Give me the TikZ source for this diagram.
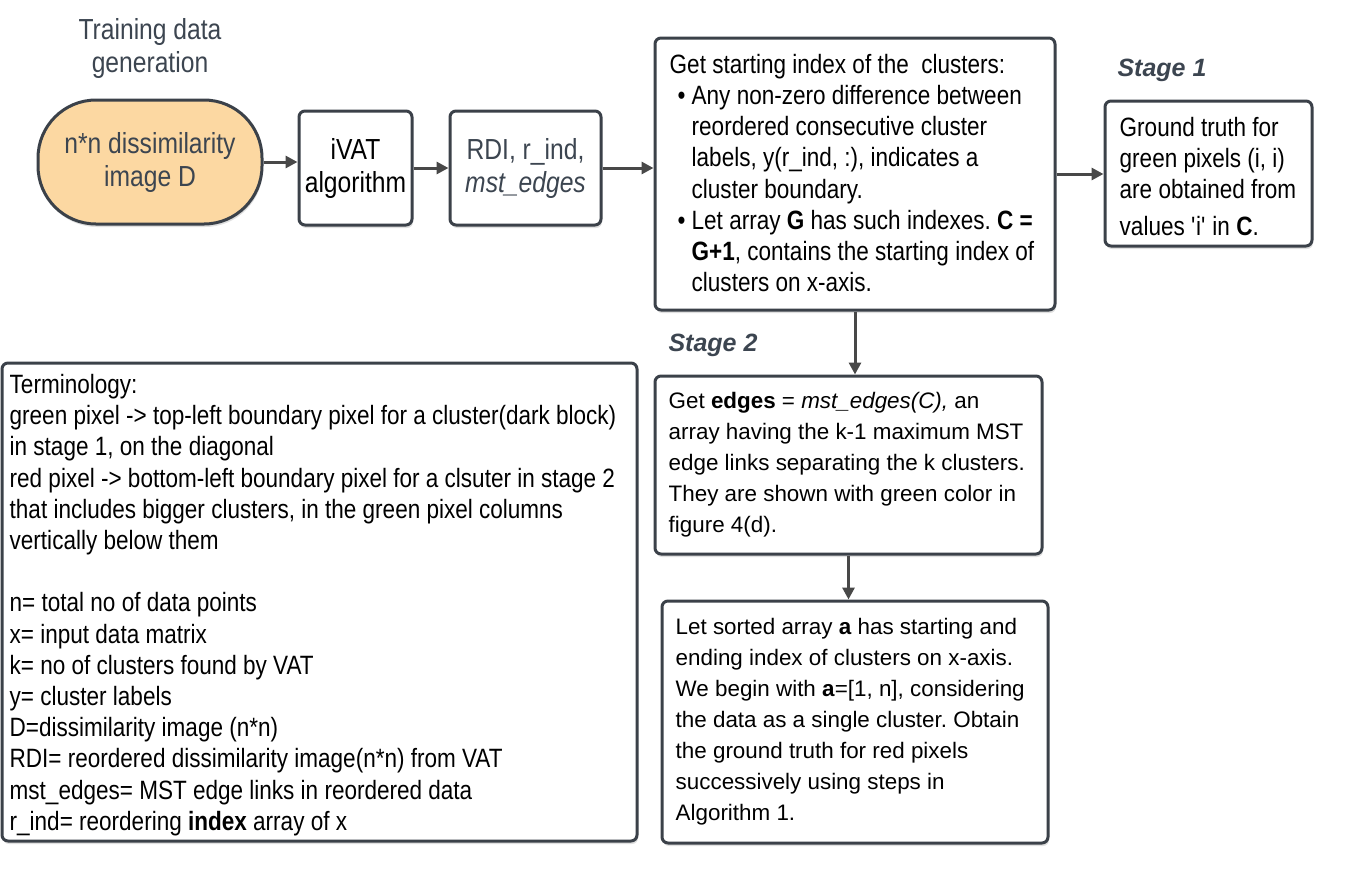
\documentclass[tikz,border=0pt]{standalone}
\usepackage{fontspec}
\setmainfont{Liberation Sans}
\newfontfamily\narrowf[FakeStretch=0.85]{Liberation Sans}
\usetikzlibrary{arrows.meta,shadows,calc}
\definecolor{bord}{HTML}{3B4149}
\definecolor{tgray}{HTML}{3C4550}
\definecolor{orangefill}{HTML}{FCD8A2}
\definecolor{arrowc}{HTML}{484848}
\tikzset{
  box/.style={draw=bord, line width=3pt, rounded corners=6pt, fill=white,
    drop shadow={shadow xshift=1pt, shadow yshift=-3pt, opacity=0.12, fill=black}},
  txt/.style={anchor=west, align=left, inner sep=0pt, text=black},
  toptxt/.style={align=center, inner sep=0pt, font=\narrowf\fontsize{29}{33}\selectfont},
  narrowbody/.style={font=\narrowf\fontsize{26.5}{31.2}\selectfont},
  widebody/.style={font=\fontsize{22.4}{31}\selectfont},
  stagelbl/.style={inner sep=0pt, text=tgray, font=\fontsize{25}{30}\selectfont\bfseries\itshape},
  arr/.style={draw=arrowc, line width=3pt, -{Triangle[length=12pt,width=12pt]}}
}
\frenchspacing
\begin{document}
\frenchspacing
\begin{tikzpicture}[x=1pt,y=-1pt]
\useasboundingbox (0,0) rectangle (1352,879);
% top row
\node[toptxt, text=tgray] (title) at (150,48) {Training data\\generation};
\node[draw=bord, line width=3pt, fill=orangefill, rounded corners=58pt,
      minimum width=224pt, minimum height=124pt, inner sep=0pt,
      drop shadow={shadow xshift=1pt, shadow yshift=-3pt, opacity=0.12, fill=black}] (stad) at (150,162) {};
\node[toptxt, text=tgray] (stadt) at (stad.center) {n*n dissimilarity\\image D};
\node[box, minimum width=113pt, minimum height=114pt, inner sep=0pt] (ivat) at (355.5,168) {};
\node[toptxt] (ivatt) at (ivat.center) {iVAT\\algorithm};
\node[box, minimum width=151pt, minimum height=114pt, inner sep=0pt] (rdi) at (525.5,168) {};
\node[toptxt, text=tgray] (rdit) at (rdi.center) {RDI, r\_ind,\\\textit{mst\_edges}};
% box 1
\node[box, minimum width=400pt, minimum height=272pt, inner sep=0pt] (b1) at (855,174) {};
\node[txt, narrowbody] (b1t) at ([xshift=16pt,yshift=1pt]b1.west) {Get starting index of the~ clusters:\\
\makebox[22pt][l]{\hspace{8pt}•}Any non-zero difference between\\
\hspace*{22pt}reordered consecutive cluster\\
\hspace*{22pt}labels, y(r\_ind, :), indicates a\\
\hspace*{22pt}cluster boundary.\\
\makebox[22pt][l]{\hspace{8pt}•}Let array \textbf{G} has such indexes. \textbf{C =}\\
\hspace*{22pt}\textbf{G+1}, contains the starting index of\\
\hspace*{22pt}clusters on x-axis.};
% stage 1 and ground truth
\node[stagelbl] (st1) at (1162,70) {Stage 1};
\node[box, minimum width=207pt, minimum height=145pt, inner sep=0pt] (gt) at (1208.5,173.5) {};
\node[txt, narrowbody] (gtt) at ([xshift=16pt,yshift=-3pt]gt.west) {Ground truth for\\green pixels (i, i)\\are obtained from\\[6pt]values \textquotesingle i\textquotesingle{} in \textbf{C}.};
% stage 2
\node[stagelbl] (st2) at (713,345) {Stage 2};
\node[box, minimum width=387pt, minimum height=178pt, inner sep=0pt] (b2) at (848.5,465) {};
\node[txt, widebody] (b2t) at ([xshift=15pt]b2.west) {Get \textbf{edges} = \textit{mst\_edges(C),} an\\
array having the k-1 maximum MST\\
edge links separating the k clusters.\\
They are shown with green color in\\
figure 4(d).};
\node[box, minimum width=386pt, minimum height=242pt, inner sep=0pt] (b3) at (855,722) {};
\node[txt, widebody] (b3t) at ([xshift=15pt]b3.west) {Let sorted array \textbf{a} has starting and\\
ending index of clusters on x-axis.\\
We begin with \textbf{a}=[1, n], considering\\
the data as a single cluster. Obtain\\
the ground truth for red pixels\\
successively using steps in\\
Algorithm 1.};
% terminology
\node[box, minimum width=635pt, minimum height=478pt, inner sep=0pt] (term) at (319.5,602) {};
\node[txt, narrowbody] (termt) at ([xshift=9pt,yshift=-3pt]term.west) {Terminology:\\
green pixel -> top-left boundary pixel for a cluster(dark block)\\
in stage 1, on the diagonal\\
red pixel -> bottom-left boundary pixel for a clsuter in stage 2\\
that includes bigger clusters, in the green pixel columns\\
vertically below them\\
\mbox{}\\
n= total no of data points\\
x= input data matrix\\
k= no of clusters found by VAT\\
y= cluster labels\\
D=dissimilarity image (n*n)\\
RDI= reordered dissimilarity image(n*n) from VAT\\
mst\_edges= MST edge links in reordered data\\
r\_ind= reordering \textbf{index} array of x};
% connectors
\draw[arr] (stad.east) -- (stad.east -| ivat.west);
\draw[arr] (ivat.east) -- (rdi.west);
\draw[arr] (rdi.east) -- (rdi.east -| b1.west);
\draw[arr] (b1.east) -- (b1.east -| gt.west);
\draw[arr] (b1.south) -- (b1.south |- b2.north);
\draw[arr] (b2.south) -- (b2.south |- b3.north);
\end{tikzpicture}
\end{document}
